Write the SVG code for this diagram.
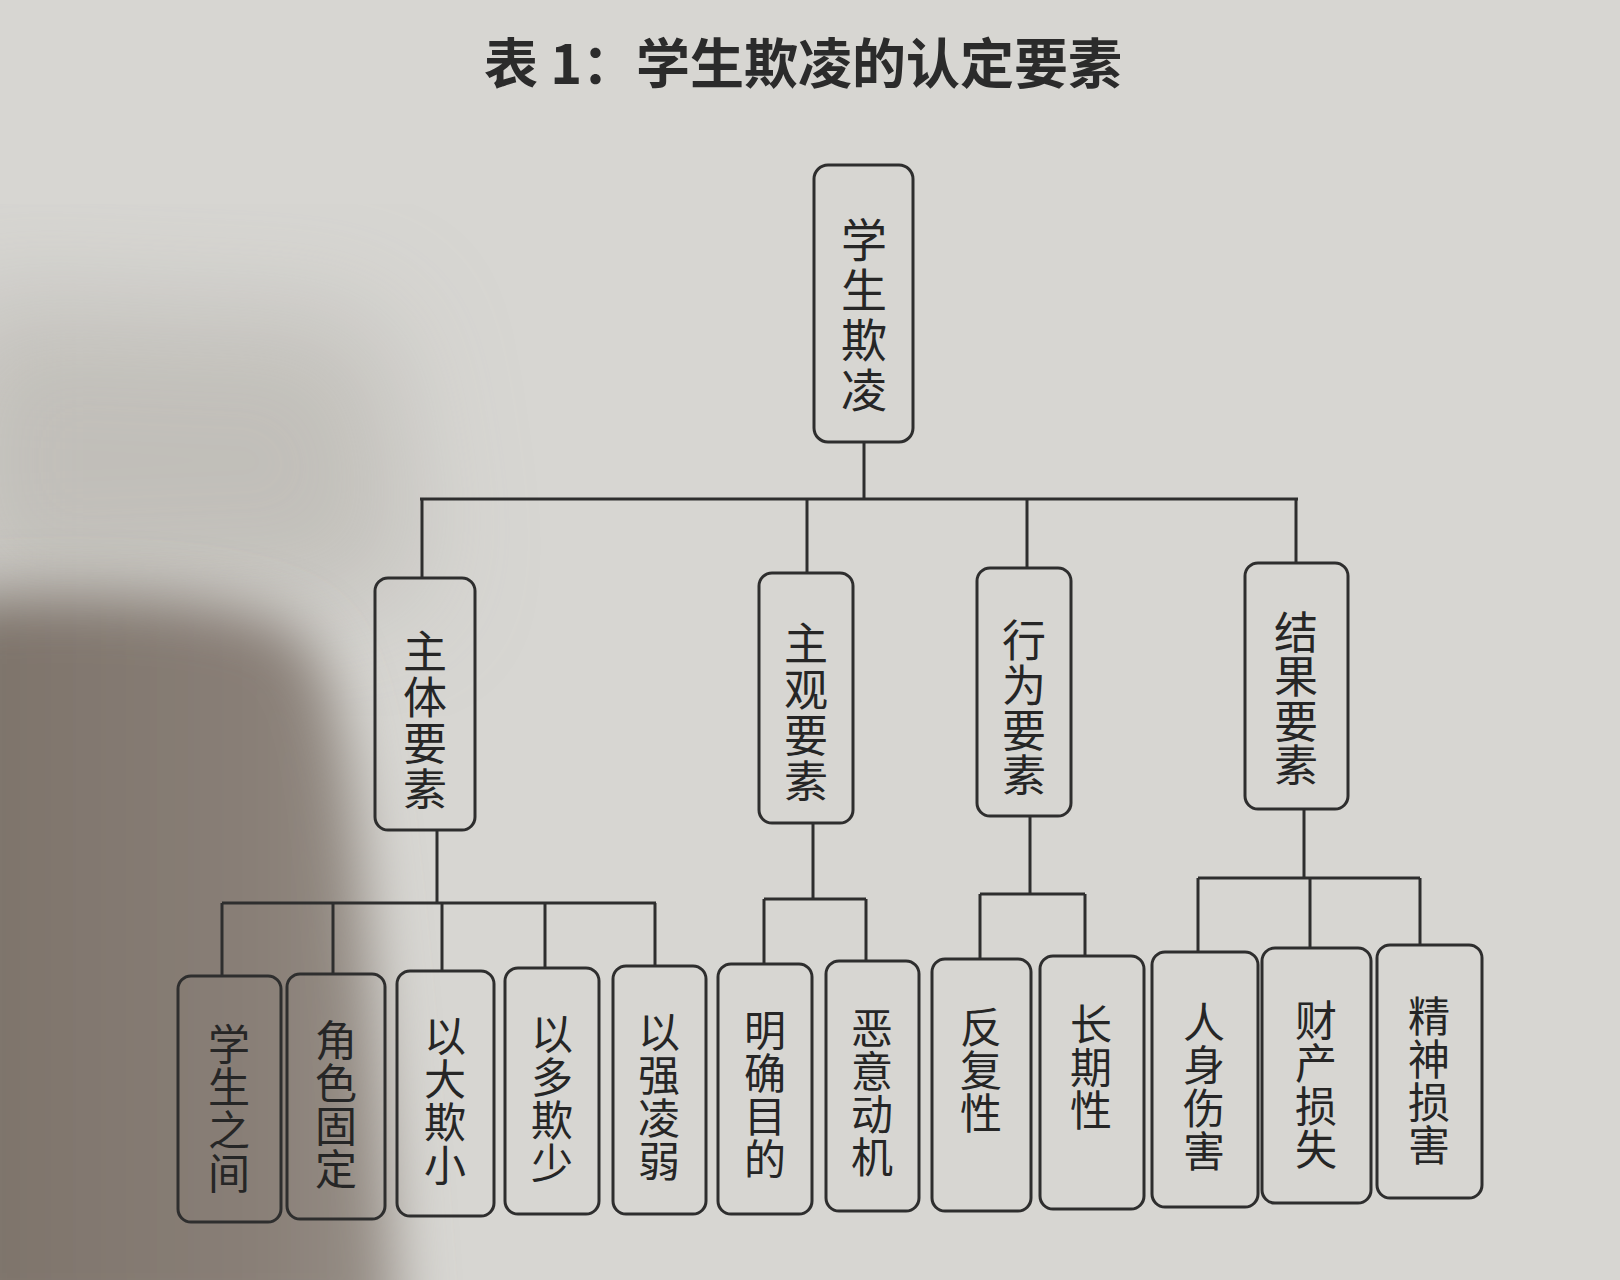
<svg xmlns="http://www.w3.org/2000/svg" width="1620" height="1280" viewBox="0 0 1620 1280">
<defs>
<filter id="blur" x="-30%" y="-30%" width="160%" height="160%"><feGaussianBlur stdDeviation="28"/></filter>
<filter id="blur2" x="-30%" y="-30%" width="160%" height="160%"><feGaussianBlur stdDeviation="60"/></filter>
<linearGradient id="sh" x1="0" y1="0" x2="1" y2="0">
<stop offset="0" stop-color="#7c7269"/>
<stop offset="0.7" stop-color="#897f77"/>
<stop offset="1" stop-color="#999189"/>
</linearGradient>
<style>
.box{fill:none;stroke:#2e2e2e;stroke-width:3}
.ln{fill:none;stroke:#2e2e2e;stroke-width:3}
.t{font-family:"Noto Sans CJK SC","Noto Sans CJK JP",sans-serif;fill:#262626;writing-mode:vertical-rl;text-anchor:start}
.l2{font-size:44px}
.l3{font-size:42px;letter-spacing:1px}
.title{font-family:"Noto Sans CJK SC","Noto Sans CJK JP",sans-serif;font-weight:bold;font-size:54px;fill:#2b2b2b;text-anchor:middle}
</style>
</defs>
<rect x="0" y="0" width="1620" height="1280" fill="#d7d6d2"/>
<path d="M-60 300 L380 320 L420 600 L-60 620 Z" fill="#bcb9b4" filter="url(#blur2)" opacity="0.8"/>
<path d="M-60 600 C100 590 240 595 300 635 C340 675 350 760 365 900 C375 1000 385 1120 400 1340 L-60 1340 Z" fill="url(#sh)" filter="url(#blur)"/>
<text class="title" x="803" y="84">表 1：学生欺凌的认定要素</text>

<g id="connectors">
<path class="ln" d="M864 442V499M420 499H1298M422 499V578M807 499V573M1027 499V568M1296 499V563"/>
<path class="ln" d="M437 830V903M222 903H656M222 903V976M333 903V974M442 903V971M545 903V968M655 903V966"/>
<path class="ln" d="M813 823V899M764 899H866M764 899V964M866 899V961"/>
<path class="ln" d="M1030 816V894M980 894H1085M980 894V959M1085 894V956"/>
<path class="ln" d="M1304 809V878M1198 878H1420M1198 878V952M1310 878V948M1420 878V945"/>
</g>

<g id="root">
<rect class="box" x="814" y="165" width="99" height="277" rx="14"/>
<text class="t" x="864" y="217" style="font-size:46px;letter-spacing:4px">学生欺凌</text>
</g>

<g id="n-zhuti">
<rect class="box" x="375" y="578" width="100" height="252" rx="13"/>
<text class="t l2" x="425" y="629" style="letter-spacing:2px">主体要素</text>
</g>
<g id="n-zhuguan">
<rect class="box" x="759" y="573" width="94" height="250" rx="13"/>
<text class="t l2" x="806" y="621" style="letter-spacing:2px">主观要素</text>
</g>
<g id="n-xingwei">
<rect class="box" x="977" y="568" width="94" height="248" rx="13"/>
<text class="t l2" x="1024" y="618" style="letter-spacing:1px">行为要素</text>
</g>
<g id="n-jieguo">
<rect class="box" x="1245" y="563" width="103" height="246" rx="13"/>
<text class="t l2" x="1296" y="610" style="letter-spacing:0.5px">结果要素</text>
</g>

<g id="leaf1">
<rect class="box" x="178" y="976" width="103" height="246" rx="13"/>
<text class="t l3" x="229" y="1023">学生之间</text>
</g>
<g id="leaf2">
<rect class="box" x="287" y="974" width="98" height="245" rx="13"/>
<text class="t l3" x="336" y="1019">角色固定</text>
</g>
<g id="leaf3">
<rect class="box" x="397" y="971" width="97" height="245" rx="13"/>
<text class="t l3" x="445" y="1015">以大欺小</text>
</g>
<g id="leaf4">
<rect class="box" x="505" y="968" width="94" height="246" rx="13"/>
<text class="t l3" x="552" y="1013">以多欺少</text>
</g>
<g id="leaf5">
<rect class="box" x="613" y="966" width="93" height="248" rx="13"/>
<text class="t l3" x="659" y="1011">以强凌弱</text>
</g>
<g id="leaf6">
<rect class="box" x="718" y="964" width="94" height="250" rx="13"/>
<text class="t l3" x="765" y="1009">明确目的</text>
</g>
<g id="leaf7">
<rect class="box" x="826" y="961" width="93" height="250" rx="13"/>
<text class="t l3" x="872" y="1007">恶意动机</text>
</g>
<g id="leaf8">
<rect class="box" x="932" y="959" width="99" height="252" rx="13"/>
<text class="t l3" x="981" y="1006">反复性</text>
</g>
<g id="leaf9">
<rect class="box" x="1040" y="956" width="104" height="253" rx="13"/>
<text class="t l3" x="1091" y="1003">长期性</text>
</g>
<g id="leaf10">
<rect class="box" x="1152" y="952" width="106" height="255" rx="13"/>
<text class="t l3" x="1204" y="1001">人身伤害</text>
</g>
<g id="leaf11">
<rect class="box" x="1262" y="948" width="109" height="255" rx="13"/>
<text class="t l3" x="1316" y="999">财产损失</text>
</g>
<g id="leaf12">
<rect class="box" x="1377" y="945" width="105" height="253" rx="13"/>
<text class="t l3" x="1429" y="995">精神损害</text>
</g>
</svg>
